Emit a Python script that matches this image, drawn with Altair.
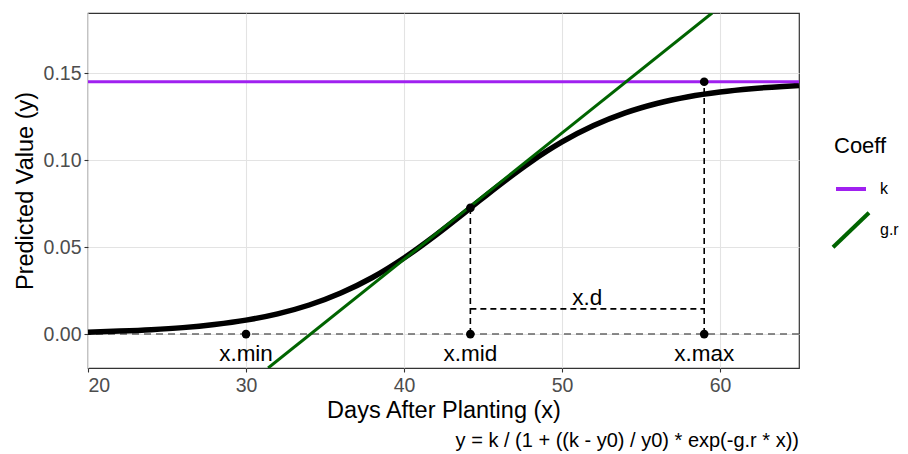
import altair as alt
import pandas as pd

# ---- values ----
curve_x = [20, 22, 24, 26, 28, 30, 32, 34, 36, 38, 40, 42, 44, 46, 48, 50, 52, 54, 56, 58, 60, 62, 64, 65]
curve_y = [0.0011, 0.0017, 0.0025, 0.0037, 0.0055, 0.0080, 0.0116, 0.0167, 0.0236, 0.0325,
           0.0437, 0.0568, 0.0710, 0.0854, 0.0988, 0.1104, 0.1198, 0.1271, 0.1325, 0.1364,
           0.1391, 0.1410, 0.1423, 0.1428]
k_value = 0.145
tangent_x = [31.4, 59.5]
tangent_y = [-0.0195, 0.1845]
key_x = [30, 44.2, 59]
key_labels = ["x.min", "x.mid", "x.max"]
mid_y = 0.0725
xd_y = 0.0145
xd_label_y = 0.0205
key_label_y = -0.0112
coeff_names = ["k", "g.r"]
coeff_colors = ["#A020F0", "#006400"]
x_ticks = [20, 30, 40, 50, 60]
y_ticks = [0.0, 0.05, 0.10, 0.15]
x_domain = [20, 65]
y_domain = [-0.0195, 0.1845]
caption = "y = k / (1 + ((k - y0) / y0) * exp(-g.r * x))"

FONT = "Liberation Sans"

xs = alt.Scale(domain=x_domain, nice=False, zero=False)
ys = alt.Scale(domain=y_domain, nice=False, zero=False)
X = lambda f: alt.X(f, type="quantitative", scale=xs,
                    axis=alt.Axis(values=x_ticks, title="Days After Planting (x)"))
Y = lambda f: alt.Y(f, type="quantitative", scale=ys,
                    axis=alt.Axis(values=y_ticks, format=".2f", title="Predicted Value (y)"))

curve_df = pd.DataFrame({"x": curve_x, "y": curve_y})
tan_df = pd.DataFrame({"x": tangent_x, "y": tangent_y})
vert_df = pd.DataFrame({"x": [key_x[1], key_x[2]], "y": [0, 0], "y2": [mid_y, k_value]})
hd_df = pd.DataFrame({"x": [key_x[1]], "x2": [key_x[2]], "y": [xd_y]})
pts_df = pd.DataFrame({"x": key_x + [key_x[1], key_x[2]], "y": [0, 0, 0, mid_y, k_value]})
lab_df = pd.DataFrame({"x": key_x, "y": [key_label_y] * 3, "t": key_labels})
xd_df = pd.DataFrame({"x": [(key_x[1] + key_x[2]) / 2], "y": [xd_label_y], "t": ["x.d"]})
leg_df = pd.DataFrame({"x": [40, 40], "y": [0.05, 0.05], "Coeff": coeff_names})

zero_line = alt.Chart(pd.DataFrame({"y": [0.0]})).mark_rule(
    color="#666666", strokeWidth=1.5, strokeDash=[7, 5]).encode(y=Y("y"))

curve = alt.Chart(curve_df).mark_line(color="black", strokeWidth=5.5, interpolate="monotone").encode(
    x=X("x"), y=Y("y"))

k_line = alt.Chart(pd.DataFrame({"y": [k_value]})).mark_rule(
    color=coeff_colors[0], strokeWidth=3).encode(y=Y("y"))

tangent = alt.Chart(tan_df).mark_line(color=coeff_colors[1], strokeWidth=3, clip=True).encode(
    x=X("x"), y=Y("y"))

verts = alt.Chart(vert_df).mark_rule(color="black", strokeWidth=1.6, strokeDash=[6, 4]).encode(
    x=X("x"), y=Y("y"), y2="y2")

hd = alt.Chart(hd_df).mark_rule(color="black", strokeWidth=1.6, strokeDash=[6, 4]).encode(
    x=X("x"), x2="x2", y=Y("y"))

pts = alt.Chart(pts_df).mark_circle(color="black", size=75, opacity=1).encode(x=X("x"), y=Y("y"))

labs = alt.Chart(lab_df).mark_text(font=FONT, fontSize=22.5, color="black", baseline="middle").encode(
    x=X("x"), y=Y("y"), text="t")

xd_lab = alt.Chart(xd_df).mark_text(font=FONT, fontSize=22.5, color="black", baseline="middle").encode(
    x=X("x"), y=Y("y"), text="t")

leg_common = dict(
    title="Coeff", orient="none", legendX=746, legendY=123,
    titleFont=FONT, titleFontSize=22, titleFontWeight="normal", titleColor="black", titlePadding=14,
    labelFont=FONT, labelFontSize=16, labelColor="black", labelOffset=12, labelLimit=60,
    symbolSize=900, symbolStrokeWidth=4, symbolOpacity=1, rowPadding=7,
)
legend_layer = alt.Chart(leg_df).mark_point(opacity=0, filled=False).encode(
    x=X("x"), y=Y("y"),
    color=alt.Color("Coeff:N", scale=alt.Scale(domain=coeff_names, range=coeff_colors),
                    legend=alt.Legend(**leg_common)),
    shape=alt.Shape("Coeff:N", scale=alt.Scale(domain=coeff_names,
                                                 range=["M-1,0L1,0", "M-1.2,1.15L1.2,-1.15"]),
                    legend=alt.Legend(**leg_common)),
)

chart = alt.layer(
    zero_line, curve, k_line, tangent, verts, hd, pts, labs, xd_lab, legend_layer
).properties(
    width=711, height=355,
    autosize=alt.AutoSizeParams(type="none"),
    padding={"left": 80, "top": 5, "right": 101, "bottom": 84},
    title=alt.TitleParams(caption, orient="bottom", anchor="end", frame="group",
                          font=FONT, fontSize=20, fontWeight="normal", color="black", offset=9),
).configure_view(
    stroke="#333333", strokeWidth=1.2
).configure_axis(
    labelFont=FONT, labelFontSize=19.5, labelColor="#4d4d4d",
    titleFont=FONT, titleFontSize=23.5, titleFontWeight="normal", titleColor="black",
    tickColor="#333333", tickSize=4, tickWidth=1.1, domain=False,
    grid=True, gridColor="#e3e3e3", gridWidth=1.1, labelPadding=3,
).configure_axisX(titlePadding=4, labelPadding=4).configure_axisY(titlePadding=6)

chart.save("out.html", embed_options={"renderer": "svg", "actions": False})
